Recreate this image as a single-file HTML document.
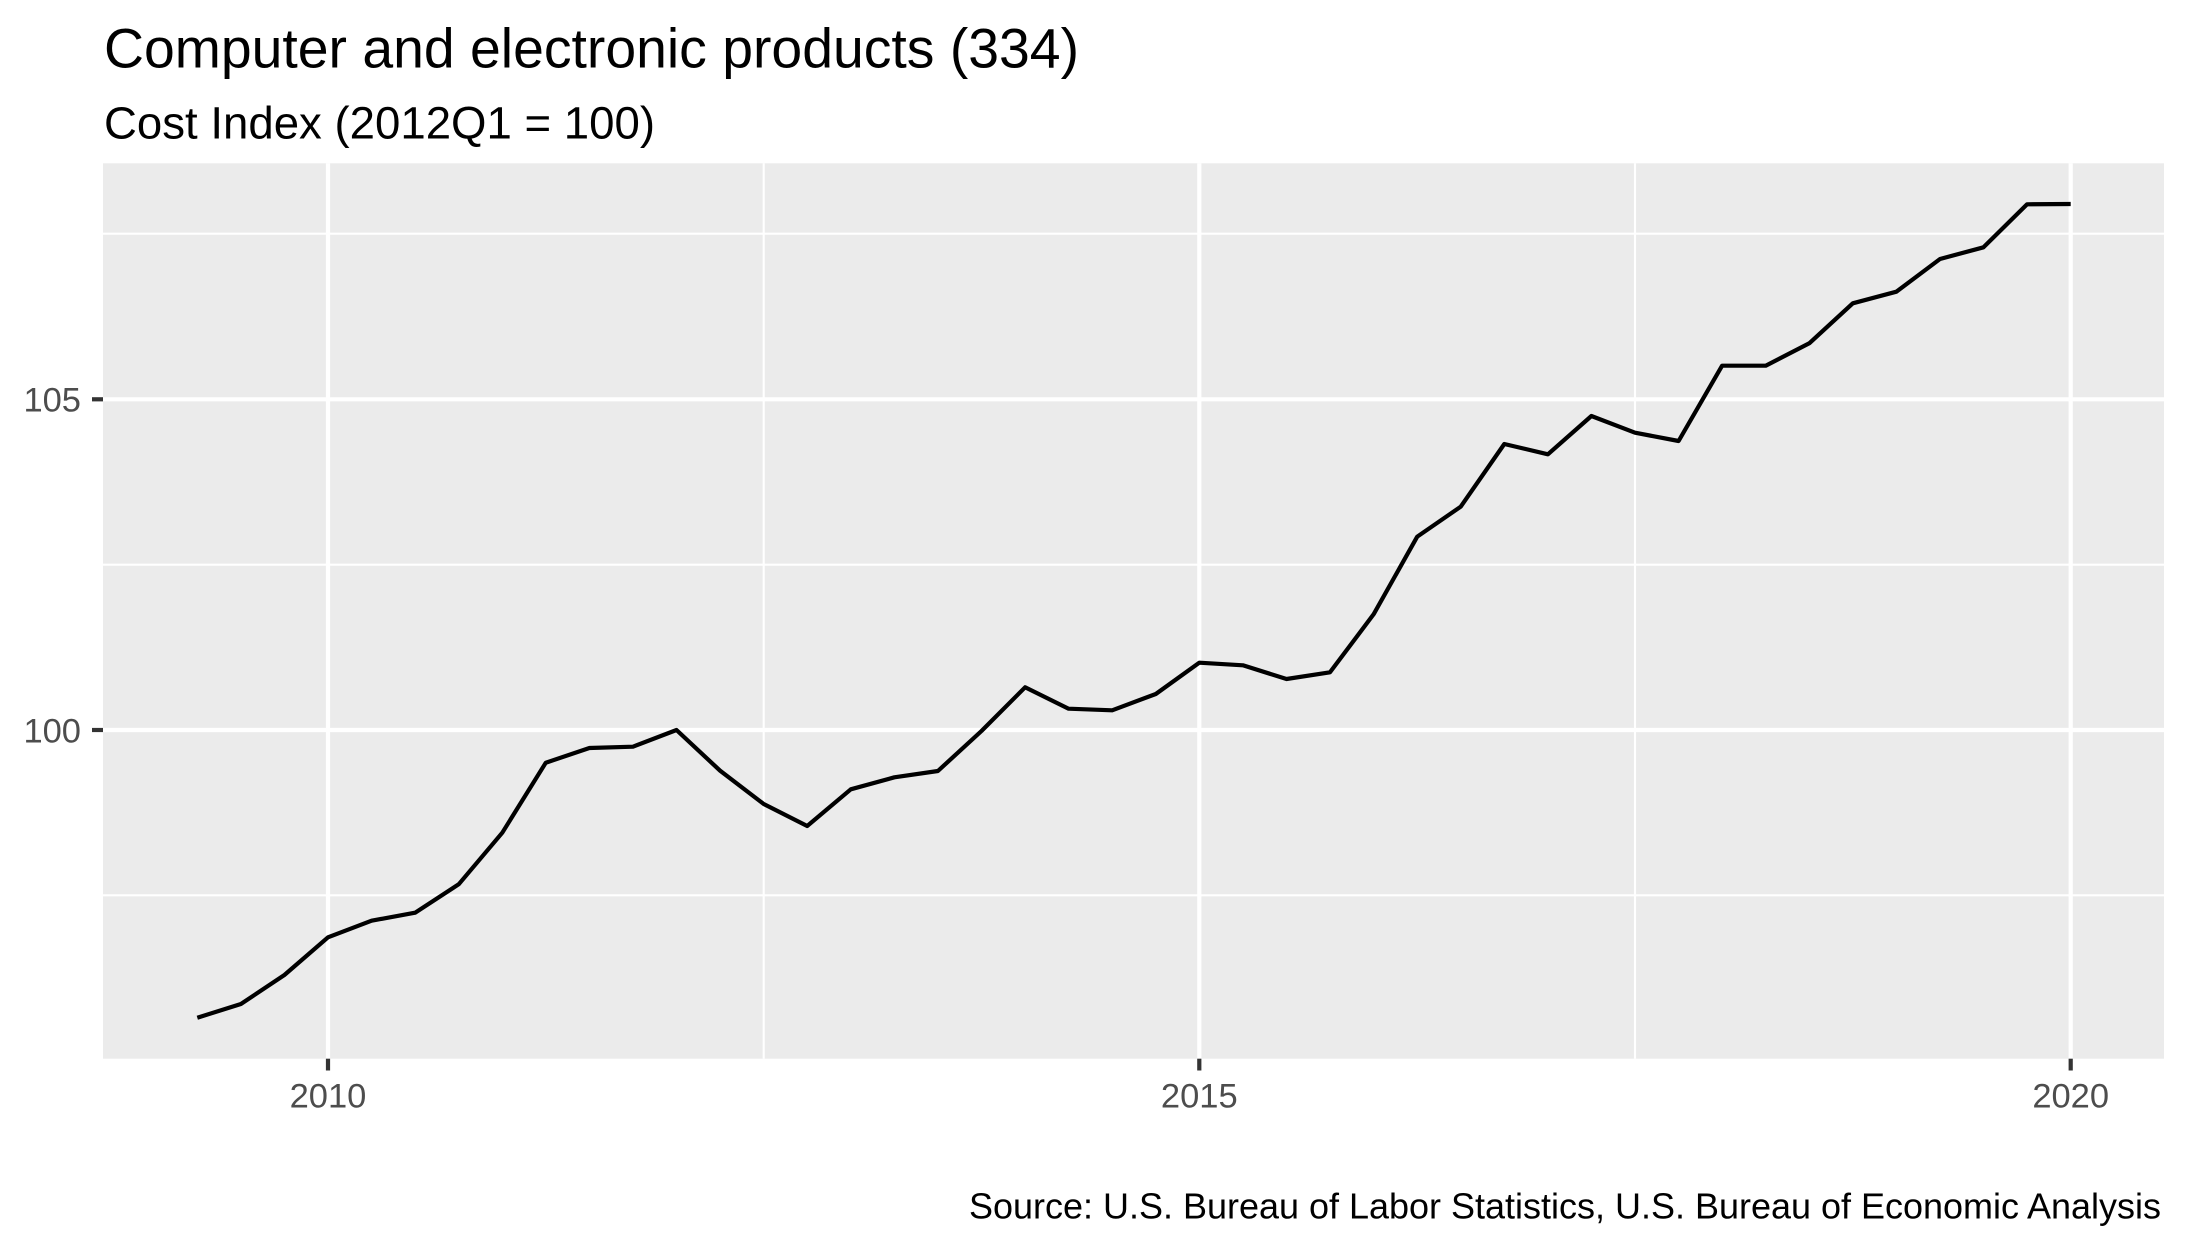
<!DOCTYPE html>
<html>
<head>
<meta charset="utf-8">
<style>
html,body{margin:0;padding:0;background:#ffffff;}
svg{display:block;}
text{font-family:"Liberation Sans",Arial,Helvetica,sans-serif;}
</style>
</head>
<body>
<svg width="2187" height="1250" viewBox="0 0 2187 1250" xmlns="http://www.w3.org/2000/svg">
<rect x="0" y="0" width="2187" height="1250" fill="#ffffff"/>
<!-- panel -->
<rect x="103" y="163.3" width="2061" height="895.4" fill="#EBEBEB"/>
<!-- minor gridlines -->
<g stroke="#ffffff" stroke-width="2.1" fill="none">
<line x1="103" x2="2164" y1="233.7" y2="233.7"/>
<line x1="103" x2="2164" y1="564.7" y2="564.7"/>
<line x1="103" x2="2164" y1="895.3" y2="895.3"/>
<line x1="763.7" x2="763.7" y1="163.3" y2="1058.7"/>
<line x1="1635.0" x2="1635.0" y1="163.3" y2="1058.7"/>
</g>
<!-- major gridlines -->
<g stroke="#ffffff" stroke-width="4.2" fill="none">
<line x1="103" x2="2164" y1="399.3" y2="399.3"/>
<line x1="103" x2="2164" y1="730" y2="730"/>
<line x1="328" x2="328" y1="163.3" y2="1058.7"/>
<line x1="1199.3" x2="1199.3" y1="163.3" y2="1058.7"/>
<line x1="2070.7" x2="2070.7" y1="163.3" y2="1058.7"/>
</g>
<!-- series -->
<polyline fill="none" stroke="#000000" stroke-width="4.2" stroke-linejoin="round" stroke-linecap="butt"
points="197.3,1017.7 240.9,1004 284.4,975 328.0,937.3 371.6,920.7 415.1,912.7 458.7,884.3 502.3,832.7 545.8,762.7 589.4,748 633.0,746.7 676.5,730 720.1,770.7 763.7,804 807.2,826 850.8,789.3 894.4,777.3 937.9,771 981.5,731 1025.1,687.3 1068.6,708.7 1112.2,710.3 1155.8,694 1199.3,662.7 1242.9,665.3 1286.5,679 1330.0,672.3 1373.6,614.3 1417.2,536.7 1460.7,506.7 1504.3,444 1547.9,454.3 1591.4,416 1635.0,432.7 1678.6,441 1722.1,365.7 1765.7,365.7 1809.3,343.3 1852.8,303.3 1896.4,291.7 1940.0,259 1983.5,247.3 2027.1,204.3 2070.7,204"/>
<!-- ticks -->
<g stroke="#333333" stroke-width="4.2">
<line x1="92" x2="103" y1="399.3" y2="399.3"/>
<line x1="92" x2="103" y1="730" y2="730"/>
<line x1="328" x2="328" y1="1058.7" y2="1070.5"/>
<line x1="1199.3" x2="1199.3" y1="1058.7" y2="1070.5"/>
<line x1="2070.7" x2="2070.7" y1="1058.7" y2="1070.5"/>
</g>
<!-- axis labels -->
<g fill="#4D4D4D" font-size="34.5">
<text x="81" y="411.7" text-anchor="end">105</text>
<text x="81" y="742.4" text-anchor="end">100</text>
<text x="328" y="1107.3" text-anchor="middle">2010</text>
<text x="1199.3" y="1107.3" text-anchor="middle">2015</text>
<text x="2070.7" y="1107.3" text-anchor="middle">2020</text>
</g>
<!-- titles -->
<text x="104" y="67.3" font-size="55.5" fill="#000000" textLength="975" lengthAdjust="spacingAndGlyphs">Computer and electronic products (334)</text>
<text x="104" y="138.3" font-size="45.5" fill="#000000" textLength="551" lengthAdjust="spacingAndGlyphs">Cost Index (2012Q1 = 100)</text>
<!-- caption -->
<text x="969" y="1218.3" font-size="36" fill="#000000" textLength="1192" lengthAdjust="spacingAndGlyphs">Source: U.S. Bureau of Labor Statistics, U.S. Bureau of Economic Analysis</text>
</svg>
</body>
</html>
